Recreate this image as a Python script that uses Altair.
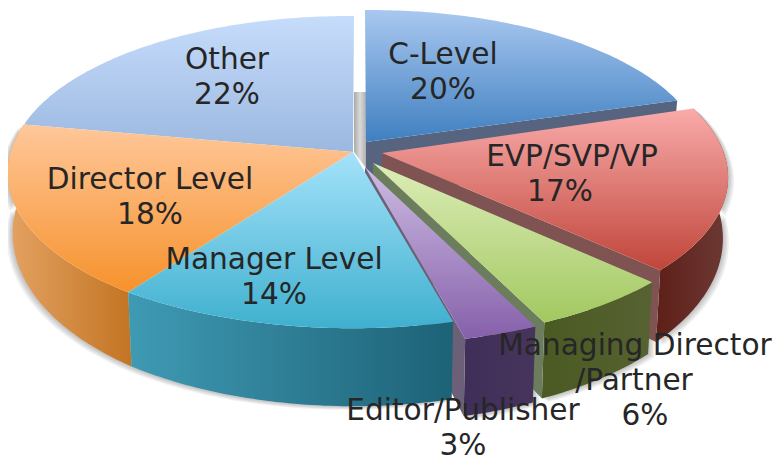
import math
import altair as alt

categories = ["C-Level", "EVP/SVP/VP", "Managing Director /Partner", "Editor/Publisher",
              "Manager Level", "Director Level", "Other"]
values = [20, 17, 6, 3, 14, 18, 22]

# ---- layout of the tilted disc (pixels in the 780x472 picture) ----
PAGE = 8
CX, CY, A, B, P = 355.0, 150.0, 345.0, 155.5, 1 / 9
HUB = (353.0, 152.0)
STYLE = {
    "C-Level": dict(apex=(366, 142), s0=(10, 0), s1=(5, -3),
                    top=["#a9c8f0", "#3f7fc0"], wall=["#4a6a90", "#4a6a90"], cut="#56647f"),
    "EVP/SVP/VP": dict(apex=(382, 153), s0=(21, 5), s1=(33, 5),
                       top=["#f9abaa", "#c0453a"], wall=["#5e1f18", "#6d3a35"], cut="#7e5352"),
    "Managing Director /Partner": dict(apex=(373, 163), s0=(25, 17), s1=(26, 16),
                       top=["#dcedb8", "#a2c860"], wall=["#4a5a22", "#566232"], cut="#6b7d5c"),
    "Editor/Publisher": dict(apex=(365, 167), s0=(17, 20), s1=(14, 20),
                       top=["#cdbce2", "#8660ab"], wall=["#3f2f58", "#46345c"], cut="#6b6078"),
    "Manager Level": dict(apex=HUB, s0=(2, 3), s1=(-4, 4),
                       top=["#a5e2fa", "#3fb0cf"], wall=["#1d6277", "#3f9ab4"], cut="#1d6277"),
    "Director Level": dict(apex=HUB, s0=(-4, 4), s1=(1, 3),
                       top=["#ffc79a", "#f6922c"], wall=["#c27523", "#e4a262"], cut="#c27523"),
    "Other": dict(apex=HUB, s0=(1, 3), s1=(-1, 6),
                  top=["#c6dcfb", "#9bb8e0"], wall=["#8aa4c8", "#8aa4c8"], cut="#8aa4c8"),
}
LABELS = [
    ("C-Level", 443, 55), ("20%", 443, 90),
    ("EVP/SVP/VP", 572, 157), ("17%", 560, 192),
    ("Managing Director", 635, 346), ("/Partner", 634, 381), ("6%", 645, 416),
    ("Editor/Publisher", 463, 411), ("3%", 463, 446),
    ("Manager Level", 274, 260), ("14%", 274, 295),
    ("Director Level", 150, 180), ("18%", 150, 215),
    ("Other", 227, 60), ("22%", 227, 95),
]

total = sum(values)
proj = dict(type="identity", scale=1, translate=[0, 0])


def rim_point(turn, shift):
    X, Y = math.sin(turn), -math.cos(turn)
    d = 1 - P * Y
    x, y = CX + A * X / d, CY + B * Y / d
    return x + shift[0], y + shift[1], Y


def lower(px, py, Y, shift):
    return CX + shift[0] + 0.985 * (px - shift[0] - CX), py + 58 + 20 * Y


def geo(points, dx=0, dy=0):
    ring = [[p[0] - PAGE + dx, p[1] - PAGE + dy] for p in points]
    ring.append(ring[0])
    return {"type": "Feature", "properties": {}, "geometry": {"type": "Polygon", "coordinates": [ring]}}


def shape(points, fill, opacity=1, dx=0, dy=0):
    return alt.Chart(alt.Data(values=[geo(points, dx, dy)])).mark_geoshape(
        fill=fill, opacity=opacity, strokeWidth=0).project(**proj)


def vgrad(c):
    return alt.LinearGradient(gradient="linear", x1=0, x2=0, y1=0, y2=1,
                              stops=[alt.GradientStop(color=c[0], offset=0), alt.GradientStop(color=c[1], offset=1)])


def hgrad(stops):
    n = len(stops) - 1
    return alt.LinearGradient(gradient="linear", x1=0, x2=1, y1=0, y2=0,
                              stops=[alt.GradientStop(color=c, offset=i / n) for i, c in enumerate(stops)])


# ---- geometry derived from the values ----
parts = {}
acc = 0
for name, v in zip(categories, values):
    t0, t1 = acc / total * 2 * math.pi, (acc + v) / total * 2 * math.pi
    acc += v
    st = STYLE[name]
    rim, low = [], []
    n = max(8, int(v * 4))
    for i in range(n + 1):
        f = i / n
        s = (st["s0"][0] * (1 - f) + st["s1"][0] * f, st["s0"][1] * (1 - f) + st["s1"][1] * f)
        x, y, Y = rim_point(t0 + (t1 - t0) * f, s)
        rim.append((x, y))
        low.append(lower(x, y, Y, s))
    ax, ay = st["apex"]
    parts[name] = dict(
        top=[(ax, ay)] + rim,
        wall=rim + low[::-1],
        cut=[(ax, ay), rim[-1], low[-1], (ax, ay + 58)],
    )

layers = []
# soft shadow below the outer walls
for name in ["EVP/SVP/VP", "Managing Director /Partner", "Editor/Publisher", "Manager Level", "Director Level"]:
    right = name in ("EVP/SVP/VP", "Managing Director /Partner", "Editor/Publisher")
    for d in (1.5, 3, 4.5, 6):
        layers.append(shape(parts[name]["wall"], "#000000", 0.06, dx=d if right else -d, dy=d * 0.6))

layers.append(shape(parts["Other"]["top"], vgrad(STYLE["Other"]["top"])))
# central hub seen between the first and the last slice
layers.append(shape([(354, 92), (366, 92), (366, 168), (354, 152)],
                    hgrad(["#a9a9a9", "#dadada", "#b0b0b0"])))
st = STYLE["C-Level"]
layers.append(shape(parts["C-Level"]["cut"], st["cut"]))
layers.append(shape(parts["C-Level"]["top"], vgrad(st["top"])))
for name in ["EVP/SVP/VP", "Managing Director /Partner", "Editor/Publisher"]:
    st = STYLE[name]
    layers.append(shape(parts[name]["wall"], hgrad(st["wall"])))
    layers.append(shape(parts[name]["cut"], st["cut"]))
    layers.append(shape(parts[name]["top"], vgrad(st["top"])))
for name in ["Director Level", "Manager Level"]:
    st = STYLE[name]
    layers.append(shape(parts[name]["wall"], hgrad(st["wall"][::-1])))
    layers.append(shape(parts[name]["top"], vgrad(st["top"])))

text = alt.Chart(alt.Data(values=[{"t": t, "x": x - PAGE, "y": y - PAGE} for t, x, y in LABELS])).mark_text(
    font="DejaVu Sans", fontSize=29.6, color="#262626", align="center", baseline="middle"
).encode(x=alt.X("x:Q", scale=None, axis=None), y=alt.Y("y:Q", scale=None, axis=None), text="t:N")
layers.append(text)

chart = alt.layer(*layers).properties(
    width=764, height=456, padding=0, autosize=alt.AutoSizeParams(type="none"),
    background="white"
).configure_view(stroke=None)

chart.save("out.html", embed_options={"renderer": "svg", "actions": False})
